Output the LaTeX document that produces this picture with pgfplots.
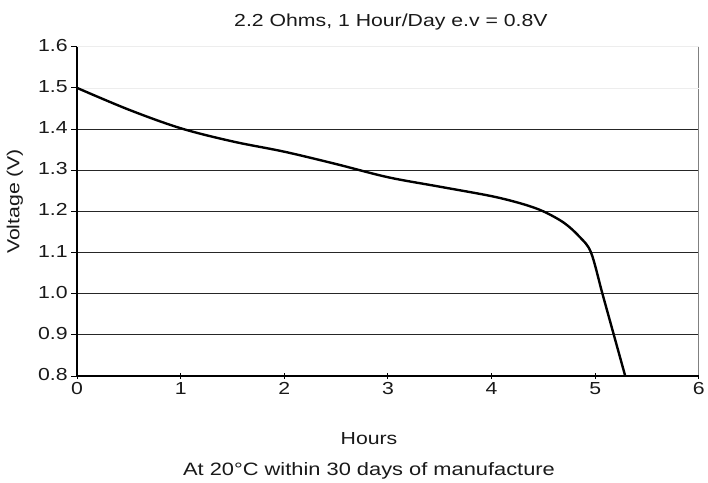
\documentclass[border=0pt]{standalone}
\usepackage{fontspec}
\setmainfont{Liberation Sans}[FakeStretch=1.22]
\usepackage{pgfplots}
\pgfplotsset{compat=1.18}
\begin{document}
\begin{tikzpicture}[font=\fontsize{17.5}{20}\selectfont]
\begin{axis}[
  scale only axis, width=625pt, height=331pt,
  xmin=0, xmax=6, ymin=0.8, ymax=1.6,
  xtick={0,1,2,3,4,5,6},
  ytick={0.8,0.9,1.0,1.1,1.2,1.3,1.4},
  extra y ticks={1.5,1.6},
  extra y tick style={grid style={black!7, line width=0.8pt}},
  y tick label style={/pgf/number format/fixed, /pgf/number format/fixed zerofill, /pgf/number format/precision=1, yshift=1.5pt},
  extra y tick labels={1.5,1.6},
  /pgf/number format/assume math mode=true,
  ymajorgrids,
  grid style={black!85, line width=0.8pt},
  axis line style={black!50, line width=1pt},
  tick pos=left,
  x tick style={black, line width=1pt},
  y tick style={black, line width=1pt},
  xtick align=center, ytick align=outside,
  major tick length=6pt,
  ticklabel style={font=\fontsize{17.5}{20}\selectfont, text=black!90},
  clip=false,
]
\path (rel axis cs:0,0) ++(-77.5pt,-103pt) rectangle ++(708pt,481pt);
\draw[black, line width=1.2pt] (rel axis cs:0,1) -- (rel axis cs:0,0) -- (rel axis cs:1,0);
\addplot[black, line width=2.4pt, smooth, tension=0.55] coordinates {
(0,1.500) (0.5,1.447) (1,1.402) (1.5,1.370) (2,1.345) (2.5,1.315)
(3,1.283) (3.5,1.260) (4,1.237) (4.3,1.218) (4.5,1.200) (4.7,1.172)
(4.85,1.138) (4.96,1.100) (5.07,1.000) (5.18,0.900) (5.29,0.800)
};
\node[black!90, anchor=base, font=\fontsize{17.5}{20}\selectfont] at (rel axis cs:0.5,1) [yshift=20pt, xshift=3pt] {2.2 Ohms, 1 Hour/Day e.v = 0.8V};
\node[black!90, anchor=base] at (rel axis cs:0.5,0) [yshift=-69pt, xshift=-19pt] {Hours};
\node[black!90, anchor=base, font=\fontsize{18}{20}\selectfont] at (rel axis cs:0.5,0) [yshift=-100pt, xshift=-19pt] {At 20\textdegree C within 30 days of manufacture};
\node[black!90, rotate=90] at (rel axis cs:0,0.5) [yshift=62.5pt, xshift=10pt] {Voltage (V)};
\end{axis}
\end{tikzpicture}
\end{document}
